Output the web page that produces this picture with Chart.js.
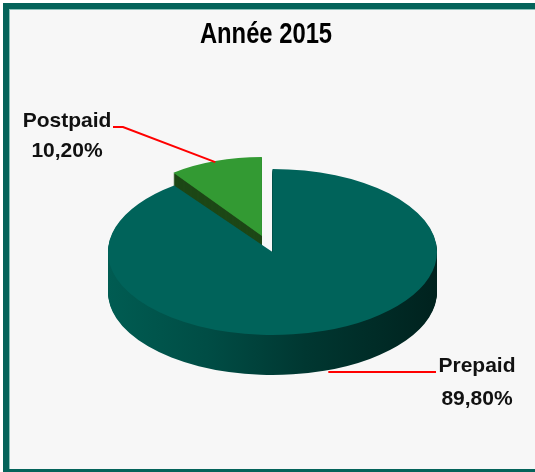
<!DOCTYPE html>
<html><head><meta charset="utf-8">
<script src="https://cdn.jsdelivr.net/npm/chart.js@4.4.0/dist/chart.umd.min.js"></script>
<style>
html,body{margin:0;padding:0;background:#fff;width:535px;height:472px;overflow:hidden}
#frame{position:absolute;left:3px;top:3px;width:800px;height:460px;border:6px solid #04635a;background:#f7f7f7;box-shadow:inset 1px 1px 0 #8cc0b8}
canvas{position:absolute;left:0;top:0}
</style></head><body>
<div id="frame"></div>
<canvas id="c" width="535" height="472"></canvas>
<script>
const categories = ['Prepaid', 'Postpaid'];
const shares = [89.8, 10.2];
const chartTitle = 'Année 2015';
const topColors = ['#00635a', '#339a33'];

// projection of the flat pie into a tilted 3D disc
const CX = 272.5, CY = 252, RX = 164.5, RY = 83, DEPTH = 40;
const EXPLODE = [0, 42];          // chart units along slice mid-angle
const PERSP = [[1, 1], [0.9, 0.95]]; // back slice appears slightly smaller

function fmt(v){ return v.toFixed(2).replace('.', ',') + '%'; }

const pie3d = {
  id: 'pie3d',
  beforeDatasetsDraw(chart) {
    const ctx = chart.ctx;
    const arcs = chart.getDatasetMeta(0).data;
    const R = arcs[0].outerRadius, ox = arcs[0].x, oy = arcs[0].y;
    const apply = (k, i) => {
      ctx.translate(CX, CY + k);
      ctx.scale(RX / R, RY / R);
      ctx.translate(-ox, -oy);
      const el = arcs[i];
      const mid = (el.startAngle + el.endAngle) / 2;
      ctx.translate(Math.cos(mid) * EXPLODE[i], Math.sin(mid) * EXPLODE[i]);
      ctx.translate(ox, oy);
      ctx.scale(PERSP[i][0], PERSP[i][1]);
      ctx.translate(-ox, -oy);
    };
    const toChartX = sx => ox + (sx - CX) * R / RX;
    const sideFill = i => {
      if (i === 1) return '#1d4716';
      const g = ctx.createLinearGradient(toChartX(108), 0, toChartX(437), 0);
      g.addColorStop(0, '#005c52');
      g.addColorStop(0.3, '#004d45');
      g.addColorStop(0.6, '#003731');
      g.addColorStop(1, '#00221e');
      return g;
    };
    [1, 0].forEach(i => {
      const el = arcs[i];
      const saved = el.options;
      el.options = Object.create(saved, {backgroundColor: {value: sideFill(i)}, borderWidth: {value: 0}});
      for (let k = DEPTH; k >= 1; k--) {
        if (i === 1 && k > 16) continue;
        ctx.save(); apply(k, i); el.draw(ctx); ctx.restore();
      }
      el.options = saved;
      ctx.save(); apply(0, i); el.draw(ctx); ctx.restore();
    });
    return false;
  },
  afterDraw(chart) {
    const ctx = chart.ctx;
    const arcs = chart.getDatasetMeta(0).data;
    const R = arcs[0].outerRadius;
    const proj = (i, ang, depth) => {
      const mid = (arcs[i].startAngle + arcs[i].endAngle) / 2;
      return [CX + Math.cos(ang) * RX * PERSP[i][0] + Math.cos(mid) * EXPLODE[i] * RX / R,
              CY + Math.sin(ang) * RY * PERSP[i][1] + Math.sin(mid) * EXPLODE[i] * RY / R + depth];
    };
    ctx.save();
    // title (condensed bold)
    ctx.fillStyle = '#000';
    ctx.font = 'bold 29px "Liberation Sans", Arial, sans-serif';
    ctx.textAlign = 'center';
    ctx.textBaseline = 'alphabetic';
    ctx.save(); ctx.translate(266, 43); ctx.scale(0.82, 1); ctx.fillText(chartTitle, 0, 0); ctx.restore();

    ctx.strokeStyle = '#ff0000';
    ctx.lineWidth = 2;
    // Postpaid leader
    const m1 = (arcs[1].startAngle + arcs[1].endAngle) / 2;
    const p1 = proj(1, m1, 0);
    ctx.beginPath(); ctx.moveTo(p1[0], p1[1] + 1); ctx.lineTo(123, 127); ctx.lineTo(113, 127); ctx.stroke();
    // Prepaid leader
    const m0 = (arcs[0].startAngle + arcs[0].endAngle) / 2;
    const p0 = proj(0, m0, DEPTH);
    ctx.beginPath(); ctx.moveTo(p0[0] + 4, 372); ctx.lineTo(436, 372); ctx.stroke();

    ctx.fillStyle = '#111';
    ctx.font = 'bold 21px "Liberation Sans", Arial, sans-serif';
    ctx.fillText(categories[1], 67, 127);
    ctx.fillText(fmt(shares[1]), 67, 157);
    ctx.fillText(categories[0], 477, 372);
    ctx.fillText(fmt(shares[0]), 477, 405);
    ctx.restore();
  }
};

new Chart(document.getElementById('c'), {
  type: 'pie',
  data: {
    labels: categories,
    datasets: [{ data: shares, backgroundColor: topColors, borderWidth: 0 }]
  },
  options: {
    responsive: false,
    animation: false,
    rotation: 0,
    layout: { padding: { top: 60 } },
    plugins: {
      legend: { display: false },
      tooltip: { enabled: false },
      title: { display: false }
    }
  },
  plugins: [pie3d]
});
</script>
</body></html>
